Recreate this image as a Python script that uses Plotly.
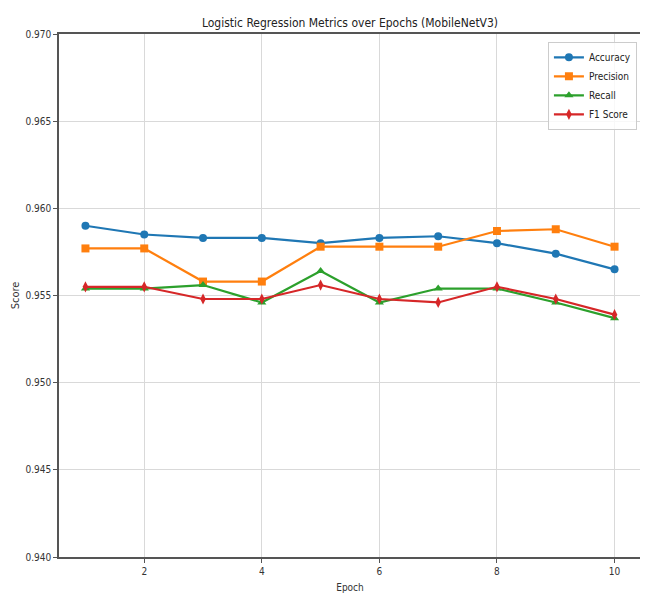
import plotly.graph_objects as go

epochs = [1, 2, 3, 4, 5, 6, 7, 8, 9, 10]
accuracy = [0.9590, 0.9585, 0.9583, 0.9583, 0.9580, 0.9583, 0.9584, 0.9580, 0.9574, 0.9565]
precision = [0.9577, 0.9577, 0.9558, 0.9558, 0.9578, 0.9578, 0.9578, 0.9587, 0.9588, 0.9578]
recall = [0.9554, 0.9554, 0.9556, 0.9546, 0.9564, 0.9546, 0.9554, 0.9554, 0.9546, 0.9537]
f1 = [0.9555, 0.9555, 0.9548, 0.9548, 0.9556, 0.9548, 0.9546, 0.9555, 0.9548, 0.9539]

series = [
    ("Accuracy", accuracy, "#1f77b4", "circle"),
    ("Precision", precision, "#ff7f0e", "square"),
    ("Recall", recall, "#2ca02c", "triangle-up"),
    ("F1 Score", f1, "#d62728", "diamond-tall"),
]

FONT = "DejaVu Sans Condensed, Liberation Sans Narrow, DejaVu Sans"

fig = go.Figure()
for name, vals, color, sym in series:
    fig.add_trace(go.Scatter(
        x=epochs, y=vals, name=name, mode="lines+markers",
        line=dict(color=color, width=2.2),
        marker=dict(symbol=sym, size=8, color=color),
    ))

fig.update_layout(
    width=648, height=600,
    margin=dict(l=51, r=15, t=26, b=51, autoexpand=False),
    paper_bgcolor="white", plot_bgcolor="white",
    font=dict(family=FONT, size=10, color="#333"),
    title=dict(text="Logistic Regression Metrics over Epochs (MobileNetV3)",
               x=0.5, xanchor="center", xref="paper", y=0.983, yanchor="top",
               font=dict(size=12, color="#222")),
    legend=dict(x=0.993, y=0.985, xanchor="right", yanchor="top",
                bordercolor="#ccc", borderwidth=1, bgcolor="rgba(255,255,255,0.8)",
                itemwidth=30,
                font=dict(size=10, color="#222")),
    showlegend=True,
)
fig.update_xaxes(
    range=[0.55, 10.45], tickvals=[2, 4, 6, 8, 10],
    showgrid=True, gridcolor="#d9d9d9", gridwidth=1,
    showline=True, linecolor="#555", linewidth=1.5, mirror=True,
    ticks="outside", ticklen=4, tickcolor="#555", zeroline=False,
    automargin=False,
    title=dict(text="Epoch", font=dict(size=10, color="#333"), standoff=8),
)
fig.update_yaxes(
    range=[0.940, 0.970], tickvals=[0.940, 0.945, 0.950, 0.955, 0.960, 0.965, 0.970],
    tickformat=".3f",
    showgrid=True, gridcolor="#d9d9d9", gridwidth=1,
    showline=True, linecolor="#555", linewidth=1.5, mirror=True,
    ticks="outside", ticklen=4, tickcolor="#555", zeroline=False,
    automargin=False,
    title=dict(text="Score", font=dict(size=11, color="#333"), standoff=4),
)

fig.write_html("out.html")
